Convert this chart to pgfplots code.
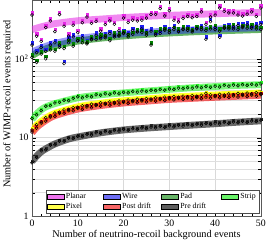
\documentclass[border=0pt]{standalone}
\usepackage{pgfplots}
\pgfplotsset{compat=1.18}
\usepackage{pgfplotstable}
\usepackage{fontspec}
\setmainfont{Liberation Serif}
\definecolor{planarC}{RGB}{230,40,230}
\definecolor{wireC}{RGB}{30,30,240}
\definecolor{padC}{RGB}{0,130,0}
\definecolor{stripC}{RGB}{40,240,40}
\definecolor{pixelC}{RGB}{255,255,0}
\definecolor{postC}{RGB}{245,20,20}
\definecolor{preC}{RGB}{40,40,40}

\pgfplotstableread{
x y
0 235
2 255
5 280
10 305
15 320
20 335
25 347
30 357
35 366
40 374
45 382
50 390
}\bandPlanar
\pgfplotstableread{
x y
0 122
2 137
5 157
10 180
15 196
20 208
25 218
30 226
35 233
40 239
45 244
50 249
}\bandWire
\pgfplotstableread{
x y
0 110
2 127
5 146
10 168
15 183
20 195
25 205
30 213
35 220
40 226
45 231
50 236
}\bandPad
\pgfplotstableread{
x y
0 17
1 20
2 22.5
3 24.5
5 27
10 32
15 35
20 37
25 39
30 41
35 43
40 44.5
45 46
50 47
}\bandStrip
\pgfplotstableread{
x y
0 12.3
1 14.4
2 16.0
3 17.6
5 20.3
10 24.6
15 27.3
20 29.4
25 31.0
30 32.6
35 33.7
40 34.8
45 35.8
50 36.9
}\bandPixel
\pgfplotstableread{
x y
0 11.5
1 13.5
2 15
3 16.5
5 19
10 23
15 25.5
20 27.5
25 29
30 30.5
35 31.5
40 32.5
45 33.5
50 34.5
}\bandPost
\pgfplotstableread{
x y
0 5.0
1 5.8
2 6.6
3 7.2
5 8.3
8 9.6
10 10.2
15 11.5
20 12.5
25 13.2
30 13.8
35 14.4
40 15.0
45 15.7
50 16.3
}\bandPre

\pgfplotstableread{
x y
0 360
1 194
2 167
3 250
4 303
5 222
6 366
7 260
8 195
9 268
10 215
11 288
12 340
13 282
14 300
15 225
16 272
17 303
18 275
19 227
20 330
21 290
22 310
23 303
24 310
25 330
26 366
27 366
28 435
29 350
30 409
31 310
32 294
33 326
34 346
35 333
36 346
37 395
38 275
39 340
40 360
41 443
42 401
43 383
44 383
45 360
46 350
47 370
48 395
49 346
50 443
}\ptPlanar
\pgfplotstableread{
x y
0 150
1 120
2 140
3 125
4 150
5 160
6 140
7 87
8 175
9 190
10 170
11 185
12 160
13 175
14 200
15 180
16 195
17 210
18 190
19 200
20 215
21 205
22 230
23 220
24 240
25 215
26 225
27 200
28 210
29 240
30 230
31 250
32 220
33 235
34 245
35 230
36 240
37 250
38 178
39 297
40 235
41 188
42 250
43 255
44 240
45 265
46 260
47 270
48 245
49 260
50 275
}\ptWire
\pgfplotstableread{
x y
0 105
1 90
2 115
3 100
4 130
5 125
6 150
7 135
8 160
9 145
10 170
11 160
12 155
13 180
14 175
15 190
16 185
17 170
18 200
19 195
20 210
21 190
22 205
23 220
24 215
25 200
26 150
27 210
28 225
29 230
30 215
31 235
32 225
33 240
34 230
35 220
36 245
37 235
38 230
39 240
40 250
41 225
42 245
43 240
44 255
45 235
46 250
47 245
48 255
49 240
50 235
}\ptPad
\pgfplotstableread{
x y
0 17.5
1 19.5
2 22
3 25
4 25.5
5 27.5
6 28
7 29.8
8 29.5
9 31.5
10 33
11 32
12 33.5
13 33
14 35
15 34.5
16 36
17 35.5
18 37
19 36
20 37.5
21 37
22 38.5
23 37.8
24 39
25 38.5
26 40
27 39.5
28 40.8
29 40
30 41.5
31 41
32 42.5
33 41.8
34 43
35 42.5
36 44
37 43
38 44.5
39 43.5
40 45
41 44
42 46
43 45
44 46.5
45 45.5
46 47
47 46
48 47.5
49 46.5
50 48
}\ptStrip
\pgfplotstableread{
x y
0 12.5
1 14.6
2 15.8
3 17.9
4 18.8
5 20.5
6 21.1
7 22.5
8 22.9
9 24
10 24.3
11 25.4
12 25.4
13 26.5
14 26.4
15 27.6
16 27.3
17 28.4
18 28.1
19 29.2
20 28.9
21 30
22 29.6
23 30.7
24 30.3
25 31.3
26 30.9
27 32
28 31.6
29 32.7
30 32.2
31 33.2
32 32.6
33 33.6
34 33
35 34.1
36 33.5
37 34.5
38 36.5
39 34.9
40 34.4
41 35.4
42 34.8
43 35.8
44 35.2
45 36.3
46 35.6
47 36.7
48 36
49 37.1
50 36.5
}\ptPixel
\pgfplotstableread{
x y
0 11.8
1 13.2
2 15.3
3 16.2
4 18.2
5 18.6
6 20.3
7 20.4
8 22
9 21.9
10 23.5
11 22.8
12 24.5
13 24
14 25.5
15 25
16 26.4
17 25.8
18 27.2
19 26.6
20 28
21 27.2
22 28.6
23 27.8
24 29.3
25 28.4
26 29.9
27 29
28 30.5
29 29.6
30 31.1
31 30.1
32 31.5
33 30.5
34 31.9
35 30.9
36 32.3
37 31.3
38 32.7
39 31.7
40 33.1
41 32.1
42 33.5
43 32.4
44 33.9
45 32.8
46 34.3
47 33.2
48 34.7
49 33.6
50 35.1
}\ptPost
\pgfplotstableread{
x y
0 4.8
1 5.6
2 6.8
3 7.0
4 8.0
5 8.1
6 9.0
7 9.0
8 9.8
9 9.7
10 10.4
11 10.3
12 11.0
13 10.8
14 11.5
15 11.3
16 11.9
17 11.7
18 12.3
19 12.1
20 12.7
21 12.4
22 13.0
23 12.7
24 13.3
25 13.0
26 13.6
27 13.3
28 13.9
29 13.5
30 14.1
31 13.7
32 14.3
33 14.0
34 14.6
35 14.2
36 14.8
37 14.4
38 15.1
39 14.7
40 15.3
41 14.9
42 15.6
43 15.2
44 15.8
45 15.4
46 16.1
47 15.6
48 16.3
49 16.0
50 16.6
}\ptPre

\begin{document}
\begin{tikzpicture}
\begin{axis}[
  scale only axis, width=234pt, height=221pt,
  xmin=0, xmax=50, ymode=log, ymin=1, ymax=556,
  xtick={0,10,20,30,40,50}, minor x tick num=4,
  ytick={1,10,100}, yticklabels={1,10,10\textsuperscript{2}},
  /pgf/number format/assume math mode=true,
  xmajorgrids, ymajorgrids, yminorgrids,
  major grid style={gray!30}, minor grid style={gray!25},
  axis line style={gray!70!black},
  tick style={black},
  tick label style={font=\fontsize{10}{11}\selectfont},
  xlabel={Number of neutrino-recoil background events},
  ylabel={Number of WIMP-recoil events required},
  label style={font=\fontsize{10.5}{12}\selectfont},
  xlabel style={yshift=3pt},
  ylabel style={at={(axis description cs:-0.105,0.52)}, anchor=center},
  legend columns=4,
  legend style={at={(axis description cs:0.06,0.014)}, anchor=south west,
    font=\fontsize{8}{9}\selectfont, draw=gray!60!black, inner sep=1pt,
    row sep=-1pt},
  legend cell align=left,
  every axis plot/.append style={forget plot},
]
% bands
\addplot[color=planarC, line width=7pt, opacity=0.55, smooth] table {\bandPlanar};
\addplot[color=padC, line width=7pt, opacity=0.6, smooth] table {\bandPad};
\addplot[color=wireC, line width=7pt, opacity=0.45, smooth] table {\bandWire};
\addplot[color=stripC, line width=7pt, opacity=0.6, smooth] table {\bandStrip};
\addplot[color=pixelC, line width=7pt, opacity=0.8, smooth] table {\bandPixel};
\addplot[color=postC, line width=7pt, opacity=0.65, smooth] table {\bandPost};
\addplot[color=preC, line width=7pt, opacity=0.7, smooth] table {\bandPre};
% coloured marks
\addplot[only marks, mark=square*, mark size=1.2pt, color=planarC, mark options={yshift=2.4pt}] table {\ptPlanar};
\addplot[only marks, mark=square*, mark size=1.2pt, color=wireC, mark options={yshift=2.4pt}] table {\ptWire};
\addplot[only marks, mark=square*, mark size=1.2pt, color=padC, mark options={yshift=2.4pt}] table {\ptPad};
\addplot[only marks, mark=square*, mark size=1.0pt, color=stripC, mark options={yshift=1.5pt}] table {\ptStrip};
\addplot[only marks, mark=square*, mark size=1.0pt, color=pixelC, mark options={yshift=1.5pt}] table {\ptPixel};
\addplot[only marks, mark=square*, mark size=1.0pt, color=postC, mark options={yshift=1.5pt}] table {\ptPost};
\addplot[only marks, mark=square*, mark size=1.0pt, color=preC, mark options={yshift=1.5pt}] table {\ptPre};
% open circles
\addplot[only marks, mark=o, mark size=1.5pt, black, mark options={line width=0.5pt}] table {\ptPlanar};
\addplot[only marks, mark=o, mark size=1.5pt, black, mark options={line width=0.5pt}] table {\ptWire};
\addplot[only marks, mark=o, mark size=1.5pt, black, mark options={line width=0.5pt}] table {\ptPad};
\addplot[only marks, mark=o, mark size=1.5pt, black, mark options={line width=0.5pt}] table {\ptStrip};
\addplot[only marks, mark=o, mark size=1.5pt, black, mark options={line width=0.5pt}] table {\ptPixel};
\addplot[only marks, mark=o, mark size=1.5pt, black, mark options={line width=0.5pt}] table {\ptPost};
\addplot[only marks, mark=o, mark size=1.5pt, black, mark options={line width=0.5pt}] table {\ptPre};
% legend
\addlegendimage{area legend, fill=planarC!65, draw=none}
\addlegendentry{\makebox[36pt][l]{Planar}}
\addlegendimage{area legend, fill=wireC!65, draw=none}
\addlegendentry{\makebox[38pt][l]{Wire}}
\addlegendimage{area legend, fill=padC!60, draw=none}
\addlegendentry{\makebox[40pt][l]{Pad}}
\addlegendimage{area legend, fill=stripC!70, draw=none}
\addlegendentry{\makebox[16pt][l]{Strip}}
\addlegendimage{area legend, fill=pixelC!70, draw=none}
\addlegendentry{Pixel}
\addlegendimage{area legend, fill=postC!65, draw=none}
\addlegendentry{Post drift}
\addlegendimage{area legend, fill=preC!75, draw=none}
\addlegendentry{Pre drift}
\end{axis}
\end{tikzpicture}
\end{document}
